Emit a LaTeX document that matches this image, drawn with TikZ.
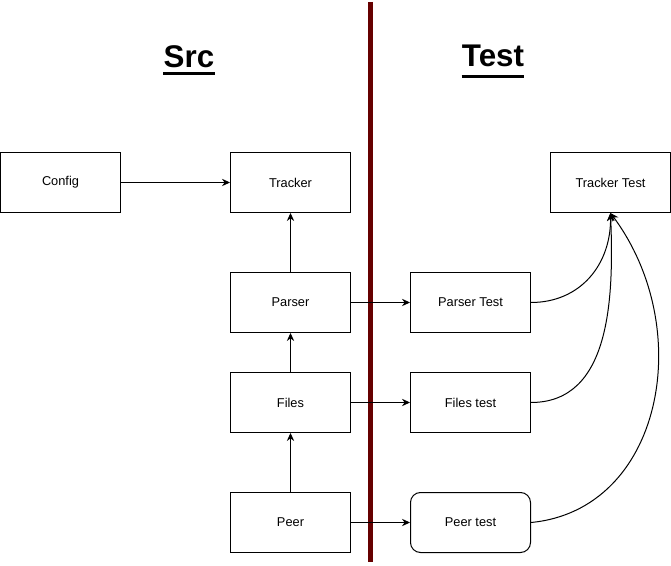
\documentclass[tikz,border=0pt]{standalone}
\usepackage{fontspec}
\setmainfont{Liberation Sans}
\usetikzlibrary{arrows.meta}
\definecolor{divider}{HTML}{660000}
\begin{document}
\begin{tikzpicture}[x=0.75pt,y=-0.75pt,
  box/.style={draw,line width=0.75pt,minimum width=90pt,minimum height=45pt,inner sep=0pt,font=\fontsize{9.6}{11}\selectfont},
  rbox/.style={box,rounded corners=7.5pt},
  arr/.style={line width=0.75pt,-{Stealth[length=6pt,width=5.5pt]}},
  title/.style={inner sep=0pt,font=\fontsize{23.5}{28}\selectfont\bfseries},
  uline/.style={line width=2.2pt}]
\useasboundingbox (0,0) rectangle (671,566);
\node[box] (config) at (60.5,182.5) {Config};
\node[box] (tracker) at (290.5,182.5) {Tracker};
\node[box] (parser) at (290.5,302.5) {Parser};
\node[box] (files) at (290.5,402.5) {Files};
\node[box] (peer) at (290.5,522.5) {Peer};
\node[box] (ptest) at (470.5,302.5) {Parser Test};
\node[box] (ftest) at (470.5,402.5) {Files test};
\node[rbox] (petest) at (470.5,522.5) {Peer test};
\node[box] (ttest) at (610.5,182.5) {Tracker Test};
\node[title,anchor=base] (src) at (189,68) {Src};
\node[title,anchor=base] (test) at (493,67) {Test};
\draw[uline] ([yshift=-4.2pt]src.base west) -- ([yshift=-4.2pt]src.base east);
\draw[uline] ([yshift=-7pt]test.base west) -- ([yshift=-7pt]test.base east);
\coordinate (divtop) at (370.5,2);
\coordinate (divbot) at (370.5,562);
\draw[line width=3.75pt,divider] (divtop) -- (divbot);
\draw[arr] (config) -- (tracker);
\draw[arr] (parser) -- (tracker);
\draw[arr] (files) -- (parser);
\draw[arr] (peer) -- (files);
\draw[arr] (parser) -- (ptest);
\draw[arr] (files) -- (ftest);
\draw[arr] (peer) -- (petest);
\draw[arr] (ptest.east) .. controls (580,302.5) and (611,265) .. (ttest.south);
\draw[arr] (ftest.east) .. controls (610,402.5) and (614,300) .. (ttest.south);
\draw[arr] (petest.east) .. controls (662,510) and (697,330) .. (ttest.south);
\end{tikzpicture}
\end{document}
